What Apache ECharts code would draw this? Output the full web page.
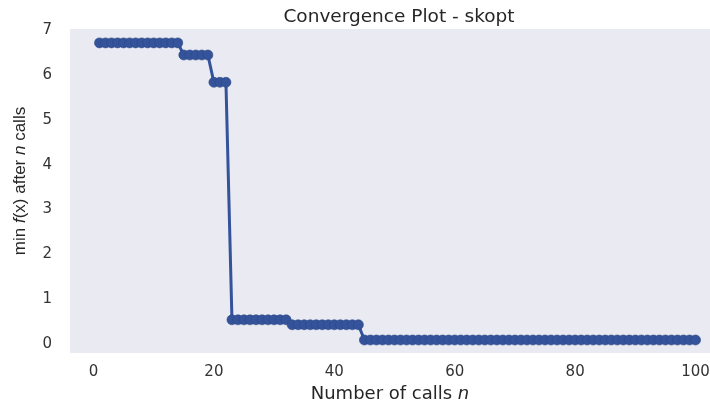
<!DOCTYPE html>
<html>
<head>
<meta charset="utf-8">
<script src="https://cdn.jsdelivr.net/npm/echarts@6/dist/echarts.min.js"></script>
<style>
html,body{margin:0;padding:0;background:#fff;}
#chart{width:710px;height:400px;}
</style>
</head>
<body>
<div id="chart"></div>
<script>
var calls = [1,2,3,4,5,6,7,8,9,10,11,12,13,14,15,16,17,18,19,20,
  21,22,23,24,25,26,27,28,29,30,31,32,33,34,35,36,37,38,39,40,
  41,42,43,44,45,46,47,48,49,50,51,52,53,54,55,56,57,58,59,60,
  61,62,63,64,65,66,67,68,69,70,71,72,73,74,75,76,77,78,79,80,
  81,82,83,84,85,86,87,88,89,90,91,92,93,94,95,96,97,98,99,100];
var minValues = [6.72,6.72,6.72,6.72,6.72,6.72,6.72,6.72,6.72,6.72,6.72,6.72,6.72,6.72,
  6.45,6.45,6.45,6.45,6.45,
  5.84,5.84,5.84,
  0.54,0.54,0.54,0.54,0.54,0.54,0.54,0.54,0.54,0.54,
  0.43,0.43,0.43,0.43,0.43,0.43,0.43,0.43,0.43,0.43,0.43,0.43,
  0.09,0.09,0.09,0.09,0.09,0.09,0.09,0.09,0.09,0.09,0.09,0.09,0.09,0.09,
  0.09,0.09,0.09,0.09,0.09,0.09,0.09,0.09,0.09,0.09,0.09,0.09,0.09,0.09,
  0.09,0.09,0.09,0.09,0.09,0.09,0.09,0.09,0.09,0.09,0.09,0.09,0.09,0.09,
  0.09,0.09,0.09,0.09,0.09,0.09,0.09,0.09,0.09,0.09,0.09,0.09,0.09,0.09];
var xTicks = [0,20,40,60,80,100];
var yTicks = [0,1,2,3,4,5,6,7];
var titleText = 'Convergence Plot - skopt';

var pts = calls.map(function(c,i){return [c, minValues[i]];});
var font = '"DejaVu Sans", "Liberation Sans", Arial, sans-serif';
var narrowFont = '"Liberation Sans", Arial, sans-serif';
var dark = '#262626';
var chart = echarts.init(document.getElementById('chart'), null, {renderer:'canvas'});
chart.setOption({
  animation:false,
  backgroundColor:'#ffffff',
  title:{
    text:titleText, left:394, top:3, textAlign:'center',
    textStyle:{fontFamily:font, fontSize:18.5, fontWeight:'normal', color:dark}
  },
  grid:{left:70, top:29, width:640, height:324, show:true, backgroundColor:'#eaeaf2',
    borderWidth:0, containLabel:false, outerBoundsMode:'none'},
  xAxis:{
    type:'value', min:-3.9, max:102.4, interval:20,
    axisLine:{show:false}, axisTick:{show:false}, splitLine:{show:false},
    axisLabel:{margin:12, fontFamily:font, fontSize:15, color:'#333',
      customValues: xTicks, showMinLabel:true, showMaxLabel:true},
    name:'Number of calls {i|n}',
    nameLocation:'middle', nameGap:28,
    nameTextStyle:{fontFamily:font, fontSize:18, color:dark, verticalAlign:'top',
      rich:{i:{fontStyle:'italic', fontFamily:font, fontSize:18, color:dark}}}
  },
  yAxis:{
    type:'value', min:-0.2, max:7.03, interval:1,
    axisLine:{show:false}, axisTick:{show:false}, splitLine:{show:false},
    axisLabel:{margin:18, fontFamily:font, fontSize:15, color:'#333', customValues: yTicks},
    name:'min {i|f}(x) after {i|n} calls',
    nameLocation:'middle', nameGap:41, nameRotate:90,
    nameTextStyle:{fontFamily:narrowFont, fontSize:17, color:dark, padding:[0,0,0,20],
      rich:{i:{fontStyle:'italic', fontFamily:narrowFont, fontSize:17, color:dark}}}
  },
  series:[{
    type:'line', data:pts,
    symbol:'circle', symbolSize:10, showSymbol:true,
    lineStyle:{color:'#34539a', width:3},
    itemStyle:{color:'#34539a', borderColor:'#2b4887', borderWidth:0.6},
    clip:false
  }]
});
</script>
</body>
</html>
